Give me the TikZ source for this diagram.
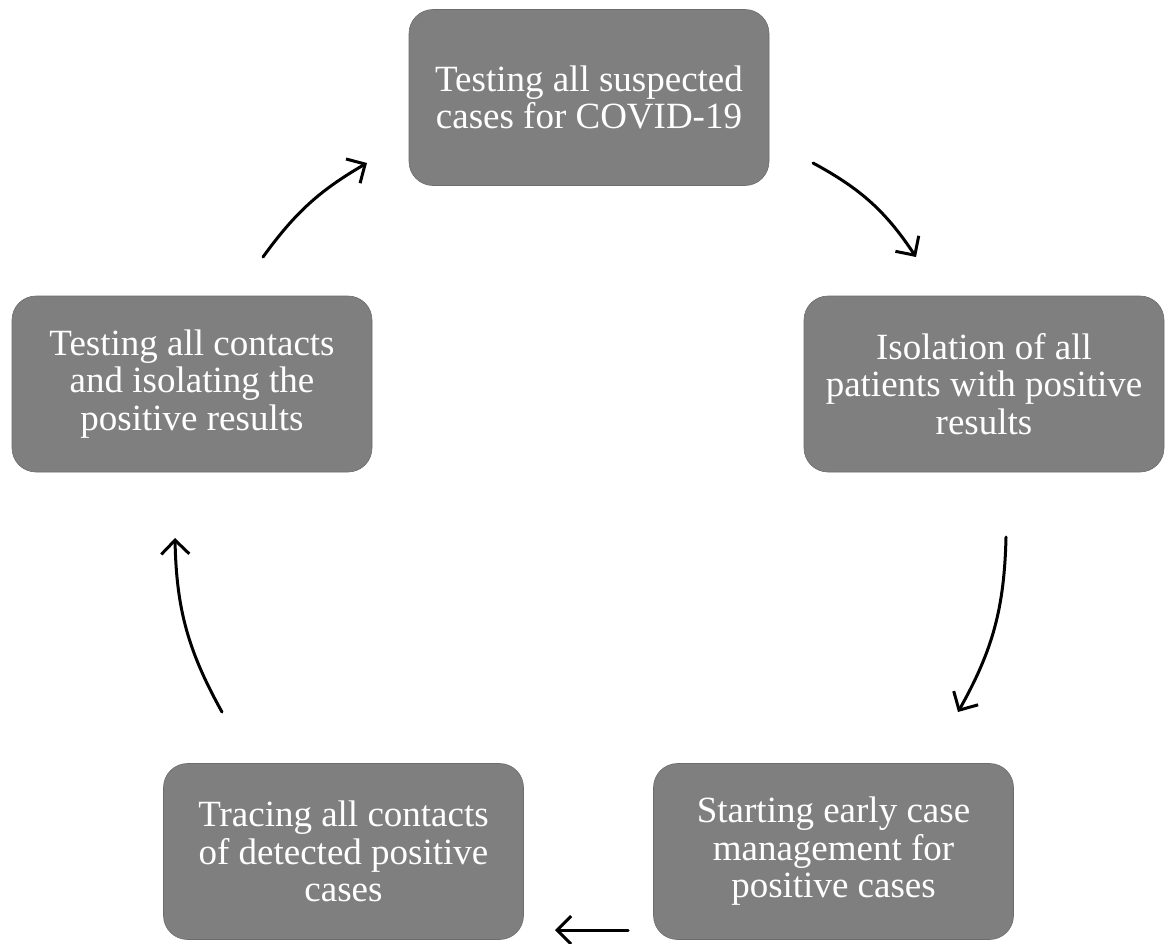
\documentclass[tikz,border=0pt]{standalone}
\usepackage{fontspec}
\setmainfont{Liberation Serif}
\usetikzlibrary{arrows.meta}
\begin{document}
\begin{tikzpicture}[x=1pt,y=-1pt,
  box/.style={fill=boxgray, draw=boxgray!85!black, line width=0.6pt, rounded corners=24pt,
    minimum width=360pt, minimum height=176pt, align=center, text=white,
    font=\fontsize{37}{37.5}\selectfont, inner sep=0pt},
  cyc/.style={line width=3pt, line cap=round, -{Straight Barb[length=14pt,width=28pt,line width=3pt]}}]
\definecolor{boxgray}{RGB}{127,127,127}
\useasboundingbox (0,0) rectangle (1166,943);
\node[box] (top) at (589,97.5) {Testing all suspected\\cases for COVID-19};
\node[box] (right) at (984,384) {Isolation of all\\patients with positive\\results};
\node[box] (left) at (192,384) {Testing all contacts\\and isolating the\\positive results};
\node[box] (br) at (833.5,851.5) {Starting early case\\management for\\positive cases};
\node[box] (bl) at (343.5,851.5) {Tracing all contacts\\of detected positive\\cases};
\coordinate (a1s) at (813,163); \coordinate (a1e) at (916,257);
\coordinate (a2s) at (1006,537); \coordinate (a2e) at (958,712);
\coordinate (a3s) at (628,930); \coordinate (a3e) at (555,930);
\coordinate (a4s) at (222,712); \coordinate (a4e) at (175,538);
\coordinate (a5s) at (263,257); \coordinate (a5e) at (367,163);
\draw[cyc] (a1s) to[bend left=14] (a1e);
\draw[cyc] (a2s) to[bend left=14] (a2e);
\draw[cyc] (a3s) -- (a3e);
\draw[cyc] (a4s) to[bend left=14] (a4e);
\draw[cyc] (a5s) to[bend left=12] (a5e);
\end{tikzpicture}
\end{document}
